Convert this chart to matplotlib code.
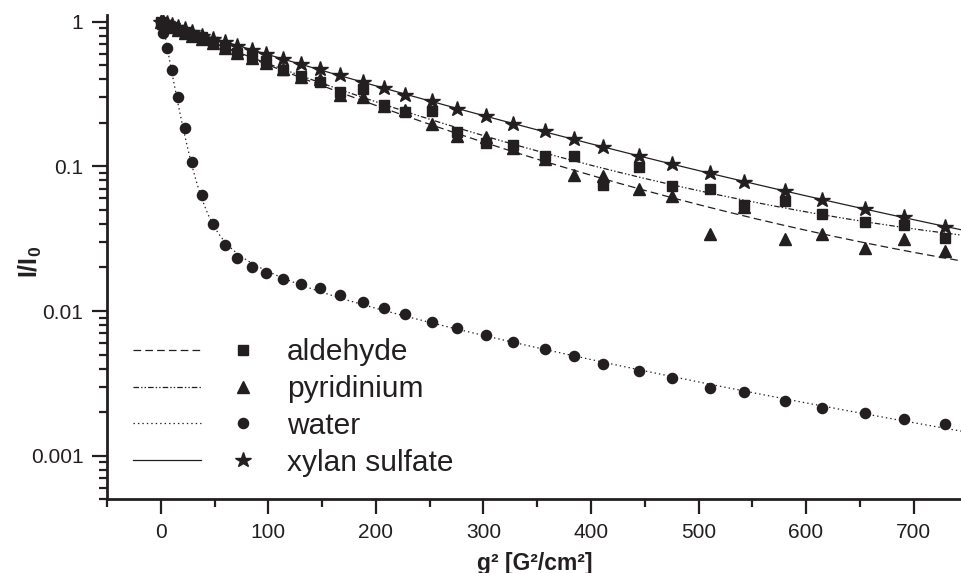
import numpy as np
import matplotlib
matplotlib.use('Agg')
import matplotlib.pyplot as plt
from matplotlib.lines import Line2D
from matplotlib.legend_handler import HandlerTuple
from matplotlib.ticker import FixedLocator, FuncFormatter, LogLocator

plt.rcParams['font.family'] = ['Liberation Sans', 'DejaVu Sans']
plt.rcParams['mathtext.fontset'] = 'custom'
plt.rcParams['mathtext.rm'] = 'Liberation Sans'
plt.rcParams['mathtext.bf'] = 'Liberation Sans:bold'
plt.rcParams['lines.scale_dashes'] = False

INK = '#231f20'

# --- data: attenuation I/I0 vs g^2 (G^2/cm^2), same gradient steps for every sample ---
g2 = np.array([0.6, 2.1, 6.2, 10.2, 16.1, 22.6, 29.4, 38.1, 48.6, 59.4,
               71.2, 84.8, 98.1, 113.9, 130.0, 148.3, 166.2, 187.9, 207.4, 227.5,
               252.6, 275.5, 302.4, 327.1, 357.2, 384.1, 411.6, 445.0, 475.1, 510.7,
               542.5, 580.6, 615.0, 654.9, 691.5, 728.9])

aldehyde = np.array([1.0, 0.98, 0.95, 0.92, 0.88, 0.84, 0.81, 0.78, 0.717, 0.67,
                     0.61, 0.575, 0.53, 0.464, 0.42, 0.384, 0.325, 0.34, 0.265, 0.238,
                     0.24, 0.172, 0.145, 0.141, 0.117, 0.117, 0.0745, 0.0985, 0.0736, 0.0699,
                     0.0536, 0.0574, 0.047, 0.0412, 0.0395, 0.0321])

pyridinium = np.array([1.0, 0.97, 0.94, 0.91, 0.87, 0.83, 0.79, 0.76, 0.71, 0.655,
                       0.61, 0.56, 0.517, 0.47, 0.415, 0.40, 0.312, 0.30, 0.26, 0.246,
                       0.197, 0.163, 0.16, 0.134, 0.113, 0.087, 0.0853, 0.07, 0.062, 0.0343,
                       0.052, 0.0312, 0.0343, 0.0274, 0.0312, 0.0259])

water = np.array([1.0, 0.84, 0.656, 0.462, 0.301, 0.184, 0.107, 0.063, 0.040, 0.0285,
                  0.0233, 0.0202, 0.0182, 0.0167, 0.01545, 0.01435, 0.0128, 0.0115, 0.01055, 0.0095,
                  0.00845, 0.0076, 0.00683, 0.0061, 0.0055, 0.00485, 0.0043, 0.00385, 0.00343, 0.00294,
                  0.00274, 0.0024, 0.00213, 0.00198, 0.00179, 0.00167])

xylan_sulfate = np.array([1.0, 0.99, 0.97, 0.94, 0.91, 0.885, 0.85, 0.80, 0.756, 0.717,
                          0.68, 0.638, 0.596, 0.55, 0.508, 0.467, 0.424, 0.385, 0.346, 0.312,
                          0.281, 0.25, 0.222, 0.196, 0.174, 0.1545, 0.135, 0.1186, 0.1033, 0.0895,
                          0.078, 0.0676, 0.0589, 0.0508, 0.0447, 0.0379])

labels = ['aldehyde', 'pyridinium', 'water', 'xylan sulfate']


def log_quad_fit(x, y, xs):
    # smooth decay: quadratic in ln(I)
    c = np.polyfit(x, np.log(y), 2)
    return np.exp(np.polyval(c, xs))


def multi_exp_fit(x, y, xs, rates):
    # sum of exponentials, relative-error least squares
    A = np.exp(-np.outer(x, rates))
    coef, *_ = np.linalg.lstsq(A / y[:, None], np.ones_like(y), rcond=None)
    return np.exp(-np.outer(xs, rates)) @ coef


dashed = (0, (5.5, 3.0))
dashdotdot = (0, (4.0, 1.5, 1.0, 1.5, 1.0, 1.5))
dotted = (0, (1.0, 2.2))

xs = np.linspace(0, 745, 600)

fig = plt.figure(figsize=(9.62, 5.73), dpi=100)
ax = fig.add_axes([107 / 962, 1 - 499.3 / 573, 1 - 107 / 962, (499.3 - 15) / 573])

# fitted curves
ax.plot(xs, log_quad_fit(g2, aldehyde, xs), color=INK, lw=0.9, ls=dashdotdot)
ax.plot(xs, log_quad_fit(g2, pyridinium, xs), color=INK, lw=0.9, ls=dashed)
ax.plot(xs, multi_exp_fit(g2, water, xs, np.array([0.1, 0.03, 0.01, 0.004, 0.0015])),
        color=INK, lw=0.9, ls=dotted)
ax.plot(xs, log_quad_fit(g2, xylan_sulfate, xs), color=INK, lw=0.9, ls='-')

# measured points
ax.plot(g2, aldehyde, 's', color=INK, ms=6.8, ls='none')
ax.plot(g2, pyridinium, '^', color=INK, ms=9, ls='none')
ax.plot(g2, water, 'o', color=INK, ms=7.3, ls='none')
ax.plot(g2, xylan_sulfate, '*', color=INK, ms=11.5, ls='none')

ax.set_yscale('log')
ax.set_xlim(-50, 745)
ax.set_ylim(5e-4, 1.11)

ax.xaxis.set_major_locator(FixedLocator(np.arange(0, 701, 100)))
ax.xaxis.set_minor_locator(FixedLocator(np.arange(-50, 751, 100)))
ax.yaxis.set_major_locator(LogLocator(base=10))
ax.yaxis.set_minor_locator(LogLocator(base=10, subs=np.arange(2, 10)))
ax.yaxis.set_major_formatter(FuncFormatter(lambda v, p: f'{v:g}'))
ax.yaxis.set_minor_formatter(FuncFormatter(lambda v, p: ''))

for side in ('top', 'right'):
    ax.spines[side].set_visible(False)
for side in ('left', 'bottom'):
    ax.spines[side].set_linewidth(2.0)
    ax.spines[side].set_color(INK)

ax.tick_params(which='major', direction='out', length=11, width=1.6, color=INK,
               labelsize=15, labelcolor=INK, pad=6)
ax.tick_params(which='minor', direction='out', length=6, width=1.6, color=INK)

ax.set_xlabel('g² [G²/cm²]', fontsize=16.5, fontweight='bold', color=INK, labelpad=7)
ax.set_ylabel(r'$\mathbf{I/I_0}$', fontsize=18, color=INK)
ax.yaxis.set_label_coords(-0.074, 0.49)

# legend rows: line sample, marker, name
row_styles = [dashed, dashdotdot, dotted, '-']
row_markers = [('s', 6.8), ('^', 9), ('o', 7.3), ('*', 11.5)]
handles = [(Line2D([], [], color=INK, lw=0.9, ls=ls),
            Line2D([], [], color=INK, ls='none', marker=m, ms=ms))
           for ls, (m, ms) in zip(row_styles, row_markers)]
ax.legend(handles, labels, handler_map={tuple: HandlerTuple(ndivide=None, pad=0.24)},
          frameon=False, fontsize=21.5, handlelength=4.85, handletextpad=0.31,
          labelspacing=0.3, loc='upper left', bbox_to_anchor=(0.03, 0.333),
          borderaxespad=0, borderpad=0, labelcolor=INK)

fig.savefig('out.png', dpi=100)
